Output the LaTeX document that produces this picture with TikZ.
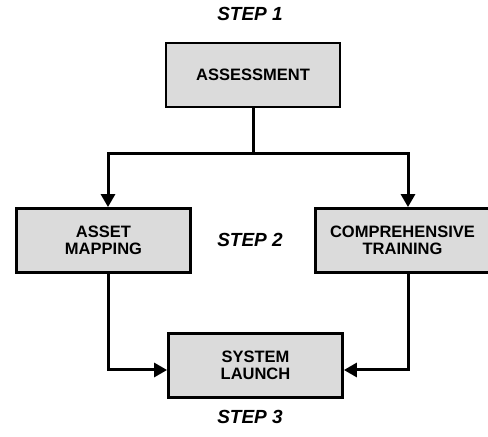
\documentclass[tikz,border=0pt]{standalone}
\usepackage{fontspec}
\setmainfont{Liberation Sans}
\usetikzlibrary{arrows.meta}
\begin{document}
\begin{tikzpicture}[x=1pt,y=1pt,
      every node/.style={font=\fontsize{16.5}{17.5}\selectfont\bfseries},
      stepbox/.style={draw,line width=2.8pt,fill=black!14,minimum width=174pt,
        minimum height=64pt,align=center},
      steplabel/.style={font=\fontsize{19}{20}\selectfont\bfseries\itshape},
      link/.style={line width=3pt},
      arr/.style={link,-{Triangle[width=14pt,length=13pt]}}]
    \useasboundingbox (0,0) rectangle (488,437);
    \node[steplabel] (S1) at (250,423) {STEP 1};           % Step labels
    \node[steplabel] (S2) at (250,197) {STEP 2};
    \node[steplabel] (S3) at (250,20) {STEP 3};
    \node[stepbox] (ASSESS) at (253,362) {ASSESSMENT};      % Step 1
    \node[stepbox] (ASSET) at (103.5,196.5) {ASSET\\MAPPING};  % Step 2
    \node[stepbox] (TRAIN) at (402.5,196.5) {COMPREHENSIVE\\TRAINING};
    \node[stepbox] (LAUNCH) at (255.5,71.5) {SYSTEM\\LAUNCH}; % Step 3
    \draw[link] (ASSESS.south) -- ++(0,-45) coordinate (split);
    \draw[arr] (split) -| ([xshift=4.5pt]ASSET.north);
    \draw[arr] (split) -| ([xshift=5.5pt]TRAIN.north);
    \draw[arr] ([xshift=4.5pt]ASSET.south) |- ([yshift=-4.5pt]LAUNCH.west);
    \draw[arr] ([xshift=5.5pt]TRAIN.south) |- ([yshift=-4.5pt]LAUNCH.east);
  \end{tikzpicture}
\end{document}
